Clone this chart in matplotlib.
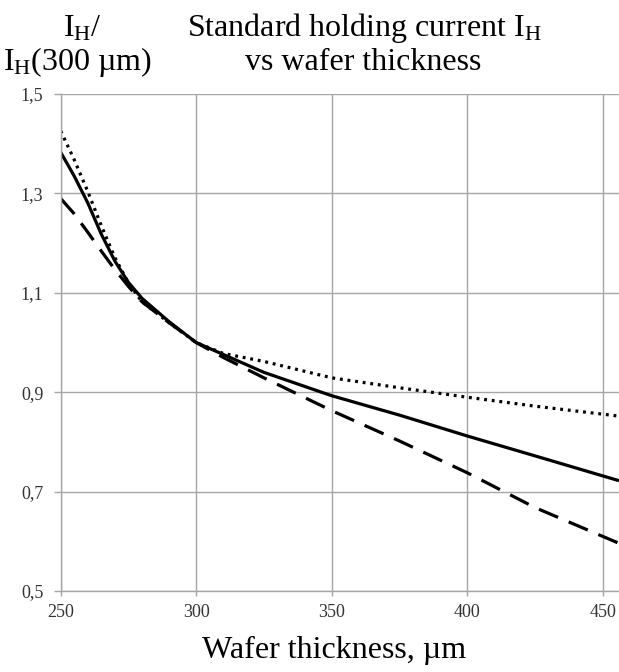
import matplotlib
matplotlib.use("Agg")
import matplotlib.pyplot as plt
from matplotlib.ticker import FuncFormatter

plt.rcParams["font.family"] = ["Liberation Serif", "DejaVu Serif"]
plt.rcParams["mathtext.fontset"] = "custom"
plt.rcParams["mathtext.rm"] = "Liberation Serif"
plt.rcParams["mathtext.it"] = "Liberation Serif:italic"

# wafer thickness, um
thickness = [250, 255, 260, 265, 270, 275, 280, 290, 300, 310, 325, 350, 375, 400, 425, 456]

# normalised holding current, three curves
solid = [1.383, 1.335, 1.281, 1.218, 1.164, 1.121, 1.089, 1.042, 1.000, 0.976, 0.940,
         0.893, 0.854, 0.812, 0.772, 0.722]
dotted = [1.426, 1.368, 1.304, 1.235, 1.171, 1.120, 1.082, 1.040, 1.000, 0.978, 0.962,
          0.929, 0.909, 0.890, 0.872, 0.852]
dashed = [1.290, 1.259, 1.222, 1.184, 1.147, 1.113, 1.082, 1.040, 1.000, 0.970, 0.929,
          0.863, 0.802, 0.738, 0.668, 0.596]

x_ticks = [250, 300, 350, 400, 450]
y_ticks = [0.5, 0.7, 0.9, 1.1, 1.3, 1.5]

fig = plt.figure(figsize=(6.19, 6.72), dpi=100)
ax = fig.add_axes([0.098, 0.1205, 0.902, 0.7395])

ax.plot(thickness, solid, color="black", lw=2.3, solid_capstyle="butt")
ax.plot(thickness, dotted, color="black", lw=2.3, linestyle=(0, (0.9, 1.5)),
        dash_capstyle="butt")
ax.plot(thickness, dashed, color="black", lw=2.3, linestyle=(0, (6.5, 3.6)),
        dash_capstyle="butt")

ax.set_xlim(250, 456)
ax.set_ylim(0.5, 1.5)
ax.set_xticks(x_ticks)
ax.set_yticks(y_ticks)
ax.yaxis.set_major_formatter(FuncFormatter(lambda v, p: f"{v:.1f}".replace(".", ",")))
ax.grid(True, color="#a6a6a6", lw=1.0)
ax.set_axisbelow(True)
for side in ["top", "right"]:
    ax.spines[side].set_visible(False)
for side in ["left", "bottom"]:
    ax.spines[side].set_color("#a6a6a6")
    ax.spines[side].set_linewidth(1.0)
ax.tick_params(colors="#a6a6a6", width=1.0, labelcolor="#333333", labelsize=13)
ax.tick_params(axis="x", length=3.5, pad=6)
ax.tick_params(axis="y", length=5, pad=7.5)

fig.text(0.1325, 0.9464, r"I$_\mathrm{H}$/", fontsize=23, ha="center", va="baseline")
fig.text(0.126, 0.8958, r"I$_\mathrm{H}$(300 µm)", fontsize=23, ha="center",
         va="baseline")
fig.text(0.589, 0.9464, r"Standard holding current I$_\mathrm{H}$", fontsize=23,
         ha="center", va="baseline")
fig.text(0.586, 0.8958, "vs wafer thickness", fontsize=23, ha="center", va="baseline")
fig.text(0.540, 0.0208, "Wafer thickness, µm", fontsize=23, ha="center", va="baseline")

fig.savefig("out.png", dpi=100)
